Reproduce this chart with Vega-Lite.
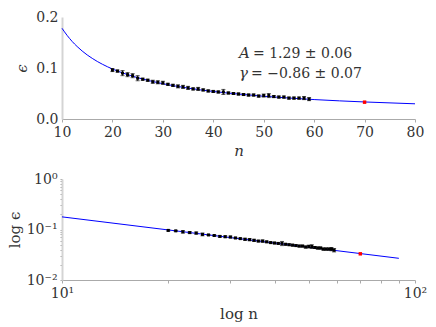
{
  "$schema": "https://vega.github.io/schema/vega-lite/v6.json",
  "padding": {"left": 7, "top": 10, "right": 12, "bottom": 5},
  "spacing": 14,
  "config": {
    "font": "DejaVu Serif",
    "view": {"stroke": null},
    "axis": {
      "labelFont": "DejaVu Serif", "labelFontSize": 14, "labelColor": "#333",
      "titleFont": "DejaVu Serif", "titleFontSize": 15, "titleFontWeight": "normal", "titleColor": "#333",
      "domainColor": "#aaa", "tickColor": "#aaa", "tickSize": 3, "grid": false, "labelFlush": false
    },
    "axisLeft": {"domainColor": "#d4d4d4", "domainWidth": 2}
  },
  "datasets": {
    "obs": [
      {"n": 20, "eps": 0.096, "err": 0.003}, {"n": 21, "eps": 0.094, "err": 0.002},
      {"n": 22, "eps": 0.090, "err": 0.005}, {"n": 23, "eps": 0.087, "err": 0.004},
      {"n": 24, "eps": 0.085, "err": 0.004}, {"n": 25, "eps": 0.080, "err": 0.005},
      {"n": 26, "eps": 0.078, "err": 0.002}, {"n": 27, "eps": 0.076, "err": 0.002},
      {"n": 28, "eps": 0.073, "err": 0.003}, {"n": 29, "eps": 0.072, "err": 0.003},
      {"n": 30, "eps": 0.071, "err": 0.003}, {"n": 31, "eps": 0.068, "err": 0.002},
      {"n": 32, "eps": 0.066, "err": 0.002}, {"n": 33, "eps": 0.064, "err": 0.003},
      {"n": 34, "eps": 0.063, "err": 0.003}, {"n": 35, "eps": 0.061, "err": 0.003},
      {"n": 36, "eps": 0.059, "err": 0.002}, {"n": 37, "eps": 0.059, "err": 0.003},
      {"n": 38, "eps": 0.057, "err": 0.002}, {"n": 39, "eps": 0.055, "err": 0.002},
      {"n": 40, "eps": 0.054, "err": 0.002}, {"n": 41, "eps": 0.053, "err": 0.002},
      {"n": 42, "eps": 0.053, "err": 0.005}, {"n": 43, "eps": 0.051, "err": 0.002},
      {"n": 44, "eps": 0.050, "err": 0.002}, {"n": 45, "eps": 0.049, "err": 0.002},
      {"n": 46, "eps": 0.048, "err": 0.002}, {"n": 47, "eps": 0.047, "err": 0.002},
      {"n": 48, "eps": 0.047, "err": 0.002}, {"n": 49, "eps": 0.045, "err": 0.002},
      {"n": 50, "eps": 0.046, "err": 0.003}, {"n": 51, "eps": 0.046, "err": 0.004},
      {"n": 52, "eps": 0.044, "err": 0.002}, {"n": 53, "eps": 0.043, "err": 0.002},
      {"n": 54, "eps": 0.043, "err": 0.002}, {"n": 55, "eps": 0.041, "err": 0.002},
      {"n": 56, "eps": 0.041, "err": 0.002}, {"n": 57, "eps": 0.041, "err": 0.002},
      {"n": 58, "eps": 0.041, "err": 0.003}, {"n": 59, "eps": 0.039, "err": 0.003}
    ],
    "fit": [
      {"n": 10, "eps": 0.1779}, {"n": 11, "eps": 0.1641}, {"n": 12, "eps": 0.1522},
      {"n": 13, "eps": 0.1421}, {"n": 14, "eps": 0.1333}, {"n": 15, "eps": 0.1256},
      {"n": 16, "eps": 0.1189}, {"n": 17, "eps": 0.1128}, {"n": 18, "eps": 0.1074},
      {"n": 20, "eps": 0.0981}, {"n": 22, "eps": 0.0904}, {"n": 25, "eps": 0.0810},
      {"n": 30, "eps": 0.0692}, {"n": 35, "eps": 0.0606}, {"n": 40, "eps": 0.0540},
      {"n": 45, "eps": 0.0489}, {"n": 50, "eps": 0.0446}, {"n": 55, "eps": 0.0411},
      {"n": 60, "eps": 0.0381}, {"n": 70, "eps": 0.0334}, {"n": 80, "eps": 0.0298}
    ],
    "fitlog": [
      {"n": 10, "eps": 0.1779}, {"n": 90, "eps": 0.0269}
    ],
    "red": [
      {"n": 70, "eps": 0.033}
    ]
  },
  "vconcat": [
    {
      "width": 353, "height": 102,
      "encoding": {
        "x": {"field": "n", "type": "quantitative", "title": "n",
              "scale": {"domain": [10, 80], "nice": false},
              "axis": {"values": [10, 20, 30, 40, 50, 60, 70, 80], "titleFontStyle": "italic", "labelPadding": 3, "titlePadding": 4}},
        "y": {"field": "eps", "type": "quantitative", "title": "ϵ",
              "scale": {"domain": [0, 0.2], "nice": false},
              "axis": {"values": [0, 0.1, 0.2], "format": ".1f", "ticks": false, "labelPadding": 4, "titlePadding": 6, "titleFontStyle": "italic"}}
      },
      "layer": [
        {"data": {"name": "fit"}, "mark": {"type": "line", "color": "#0000ff", "strokeWidth": 1, "interpolate": "monotone"}},
        {"data": {"name": "obs"}, "mark": {"type": "errorbar", "ticks": {"size": 4, "color": "#111"}, "rule": {"color": "#111", "strokeWidth": 1}},
         "encoding": {"yError": {"field": "err"}}},
        {"data": {"name": "obs"}, "mark": {"type": "square", "color": "#000", "opacity": 1, "size": 9}},
        {"data": {"name": "red"}, "mark": {"type": "square", "color": "#ff0000", "opacity": 1, "size": 12}},
        {"data": {"name": "red"}, "mark": {"type": "text", "text": "A", "fontStyle": "italic", "fontSize": 15, "align": "left", "baseline": "alphabetic", "color": "#333"},
         "encoding": {"x": {"datum": 45.1}, "y": {"datum": 0.1196}}},
        {"data": {"name": "red"}, "mark": {"type": "text", "text": "= 1.29 ± 0.06", "fontSize": 14, "align": "left", "baseline": "alphabetic", "dx": 14, "color": "#333"},
         "encoding": {"x": {"datum": 45.1}, "y": {"datum": 0.1196}}},
        {"data": {"name": "red"}, "mark": {"type": "text", "text": "γ", "fontStyle": "italic", "fontSize": 15, "align": "left", "baseline": "alphabetic", "color": "#333"},
         "encoding": {"x": {"datum": 45.1}, "y": {"datum": 0.0804}}},
        {"data": {"name": "red"}, "mark": {"type": "text", "text": "= −0.86 ± 0.07", "fontSize": 14, "align": "left", "baseline": "alphabetic", "dx": 12, "color": "#333"},
         "encoding": {"x": {"datum": 45.1}, "y": {"datum": 0.0804}}}
      ]
    },
    {
      "width": 353, "height": 101,
      "encoding": {
        "x": {"field": "n", "type": "quantitative", "title": "log n",
              "scale": {"type": "log", "domain": [10, 100], "nice": false},
              "axis": {"values": [10, 20, 30, 40, 50, 60, 70, 80, 90, 100], "labelPadding": 3, "titlePadding": 6,
                       "labelExpr": "datum.value == 10 ? '10¹' : (datum.value == 100 ? '10²' : '')"}},
        "y": {"field": "eps", "type": "quantitative", "title": "log ϵ",
              "scale": {"type": "log", "domain": [0.01, 1], "nice": false},
              "axis": {"values": [0.01, 0.02, 0.03, 0.04, 0.05, 0.06, 0.07, 0.08, 0.09, 0.1, 0.2, 0.3, 0.4, 0.5, 0.6, 0.7, 0.8, 0.9, 1],
                       "tickSize": 2, "labelPadding": 3, "titlePadding": 4,
                       "labelExpr": "abs(datum.value - 0.01) < 1e-9 ? '10⁻²' : (abs(datum.value - 0.1) < 1e-9 ? '10⁻¹' : (abs(datum.value - 1) < 1e-9 ? '10⁰' : ''))"}}
      },
      "layer": [
        {"data": {"name": "fitlog"}, "mark": {"type": "line", "color": "#0000ff", "strokeWidth": 1}},
        {"data": {"name": "obs"}, "mark": {"type": "errorbar", "ticks": {"size": 4, "color": "#111"}, "rule": {"color": "#111", "strokeWidth": 1}},
         "encoding": {"yError": {"field": "err"}}},
        {"data": {"name": "obs"}, "mark": {"type": "square", "color": "#000", "opacity": 1, "size": 9}},
        {"data": {"name": "red"}, "mark": {"type": "square", "color": "#ff0000", "opacity": 1, "size": 12}}
      ]
    }
  ]
}
